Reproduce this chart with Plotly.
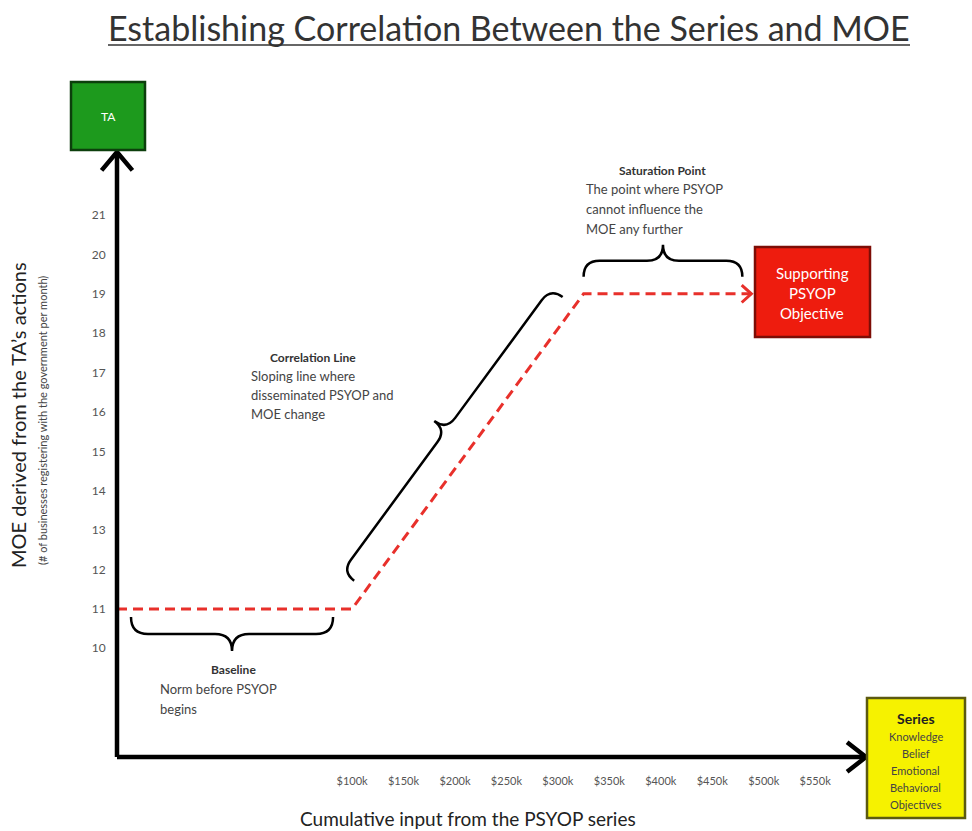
import plotly.graph_objects as go
import math

# ---------------- data ----------------
x_ticks_k = [100, 150, 200, 250, 300, 350, 400, 450, 500, 550]
x_tick_labels = ["$100k", "$150k", "$200k", "$250k", "$300k", "$350k", "$400k", "$450k", "$500k", "$550k"]
y_ticks = [10, 11, 12, 13, 14, 15, 16, 17, 18, 19, 20, 21]
x_axis_start = -128.4
x_axis_end = 599.4
y_axis_start = 7.24
y_axis_end = 22.6
moe_x = [x_axis_start, 100, 325, 488]   # cumulative input ($k)
moe_y = [11, 11, 19, 19]                  # MOE

# ---------------- layout geometry ----------------
W, H = 972, 831
ML, MR, MT, MB = 117, 106, 152, 74
PW, PH = W - ML - MR, H - MT - MB

def d2p(x, y):
    px = ML + (x - x_axis_start) / (x_axis_end - x_axis_start) * PW
    py = MT + PH - (y - y_axis_start) / (y_axis_end - y_axis_start) * PH
    return px, py

def pap(px, py):
    return (px - ML) / PW, (MT + PH - py) / PH

def path_from_pixels(cmds):
    s = []
    for c in cmds:
        op, pts = c[0], c[1:]
        coords = " ".join("%.5f,%.5f" % pap(*p) for p in pts)
        s.append(op + " " + coords)
    return " ".join(s)

def brace(p1, p2, side, inset_a, inset_b, off, depth):
    (x1, y1), (x2, y2) = p1, p2
    L = math.hypot(x2 - x1, y2 - y1)
    tx, ty = (x2 - x1) / L, (y2 - y1) / L
    nx, ny = (-ty, tx) if side > 0 else (ty, -tx)
    A = (x1 + tx * inset_a + nx * off, y1 + ty * inset_a + ny * off)
    G = (x2 - tx * inset_b + nx * off, y2 - ty * inset_b + ny * off)
    M = ((A[0] + G[0]) / 2, (A[1] + G[1]) / 2)
    h = depth / 2.0
    r = h
    P = lambda b, a_t, a_n: (b[0] + tx * a_t + nx * a_n, b[1] + ty * a_t + ny * a_n)
    cmds = [
        ("M", A),
        ("Q", P(A, 0, h), P(A, r, h)),
        ("L", P(M, -r, h)),
        ("Q", P(M, 0, h), P(M, 0, depth)),
        ("Q", P(M, 0, h), P(M, r, h)),
        ("L", P(G, -r, h)),
        ("Q", P(G, 0, h), G),
    ]
    return path_from_pixels(cmds)

def chevron(tip, direction, arm, spread_deg):
    dx, dy = direction
    L = math.hypot(dx, dy)
    dx, dy = dx / L, dy / L
    a = math.radians(spread_deg)
    pts = []
    for s in (1, -1):
        ca, sa = math.cos(s * a), math.sin(s * a)
        rx = -(dx * ca - dy * sa)
        ry = -(dx * sa + dy * ca)
        pts.append((tip[0] + rx * arm, tip[1] + ry * arm))
    return path_from_pixels([("M", pts[0]), ("L", tip), ("L", pts[1])])

FONT = "Lato, 'Open Sans', sans-serif"
RED = "#e8302b"

fig = go.Figure()
fig.add_trace(go.Scatter(
    x=moe_x, y=moe_y, mode="lines",
    line=dict(color=RED, width=3, dash="10px,6px"),
    hoverinfo="skip", showlegend=False,
))

shapes = []
# axes
shapes.append(dict(type="line", xref="paper", yref="paper", x0=0, y0=0, x1=0, y1=1,
                   line=dict(color="black", width=4.5)))
shapes.append(dict(type="line", xref="paper", yref="paper", x0=0, y0=0, x1=1, y1=0,
                   line=dict(color="black", width=4.5)))
shapes.append(dict(type="path", xref="paper", yref="paper",
                   path=chevron((ML, MT), (0, -1), 24, 40), line=dict(color="black", width=4.5)))
shapes.append(dict(type="path", xref="paper", yref="paper",
                   path=chevron((ML + PW, MT + PH), (1, 0), 24, 38), line=dict(color="black", width=4.5)))

# arrowhead at end of red line
pe = d2p(moe_x[-1], moe_y[-1])
pb = d2p(moe_x[-2], moe_y[-2])
shapes.append(dict(type="path", xref="paper", yref="paper",
                   path=chevron(pe, (pe[0] - pb[0], pe[1] - pb[1]), 13, 42), line=dict(color=RED, width=3)))

# braces
p0 = d2p(moe_x[0], moe_y[0]); p1 = d2p(moe_x[1], moe_y[1])
p2 = d2p(moe_x[2], moe_y[2]); p3 = d2p(moe_x[3], moe_y[3])
shapes.append(dict(type="path", xref="paper", yref="paper",
                   path=brace(p0, p1, 1, 14, 19, 8, 34), line=dict(color="black", width=2.5)))
shapes.append(dict(type="path", xref="paper", yref="paper",
                   path=brace(p1, p2, -1, 24, 15, 15, 30), line=dict(color="black", width=2.5)))
shapes.append(dict(type="path", xref="paper", yref="paper",
                   path=brace(p2, p3, -1, 0, 9, 17, 32), line=dict(color="black", width=2.5)))

# boxes
def box(x0, y0, x1, y1, fill, border):
    a = pap(x0, y1); b = pap(x1, y0)
    shapes.append(dict(type="rect", xref="paper", yref="paper", x0=a[0], y0=a[1], x1=b[0], y1=b[1],
                       fillcolor=fill, line=dict(color=border, width=2.5), layer="above"))

box(71, 82, 145, 150, "#1d9a1d", "#0c3f0c")
box(755, 247, 870, 337, "#ee1c0e", "#7d0d06")
box(867, 698, 965, 818, "#f6f200", "#5c5a10")

# title underline
u0 = pap(108, 45); u1 = pap(910, 45)
shapes.append(dict(type="line", xref="paper", yref="paper", x0=u0[0], y0=u0[1], x1=u1[0], y1=u1[1],
                   line=dict(color="#333333", width=1.5)))

annotations = []
def text(px, py, t, size, color="#333333", xanchor="center", yanchor="middle", bold=False, angle=0, align="center"):
    x, y = pap(px, py)
    annotations.append(dict(xref="paper", yref="paper", x=x, y=y, text=("<b>%s</b>" % t) if bold else t,
                            showarrow=False, xanchor=xanchor, yanchor=yanchor, textangle=angle,
                            align=align, font=dict(family=FONT, size=size, color=color)))

text(509, 27, "Establishing Correlation Between the Series and MOE", 34, "#333333")
text(108, 116, "TA", 12, "white")
for i, t in enumerate(["Supporting", "PSYOP", "Objective"]):
    text(812, 273 + i * 20, t, 15, "white")
text(916, 718, "Series", 14, "#222222", bold=True)
for i, t in enumerate(["Knowledge", "Belief", "Emotional", "Behavioral", "Objectives"]):
    text(916, 736 + i * 17, t, 11, "#444444")

text(662, 170, "Saturation Point", 12, "#333333", bold=True)
for i, t in enumerate(["The point where PSYOP", "cannot influence the", "MOE any further"]):
    text(584, 189 + i * 20, t, 13, "#444444", xanchor="left")
text(313, 357, "Correlation Line", 12, "#333333", bold=True)
for i, t in enumerate(["Sloping line where", "disseminated PSYOP and", "MOE change"]):
    text(249, 376 + i * 19, t, 13, "#444444", xanchor="left")
text(233, 669, "Baseline", 12, "#333333", bold=True)
for i, t in enumerate(["Norm before PSYOP", "begins"]):
    text(158, 689 + i * 20, t, 13, "#444444", xanchor="left")

text(18, 415, "MOE derived from the TA\u2019s actions", 20, "#222222", angle=-90)
text(42, 421, "(# of businesses registering with the government per month)", 11, "#444444", angle=-90)
text(468, 818, "Cumulative input from the PSYOP series", 19, "#222222")

fig.update_layout(
    width=W, height=H,
    margin=dict(l=ML, r=MR, t=MT, b=MB, pad=0),
    paper_bgcolor="white", plot_bgcolor="white",
    shapes=shapes, annotations=annotations,
    showlegend=False,
    xaxis=dict(range=[x_axis_start, x_axis_end], tickvals=x_ticks_k, ticktext=x_tick_labels,
               showgrid=False, zeroline=False, showline=False, ticks="outside", ticklen=14,
               tickcolor="rgba(0,0,0,0)", tickfont=dict(family=FONT, size=11, color="#555555"),
               fixedrange=True),
    yaxis=dict(range=[y_axis_start, y_axis_end], tickvals=y_ticks,
               showgrid=False, zeroline=False, showline=False, ticks="outside", ticklen=8,
               tickcolor="rgba(0,0,0,0)", tickfont=dict(family=FONT, size=12, color="#555555"),
               fixedrange=True),
)

fig.write_html("out.html", config={"displayModeBar": False},
               post_script="document.body.style.margin='0';document.body.style.padding='0';")
